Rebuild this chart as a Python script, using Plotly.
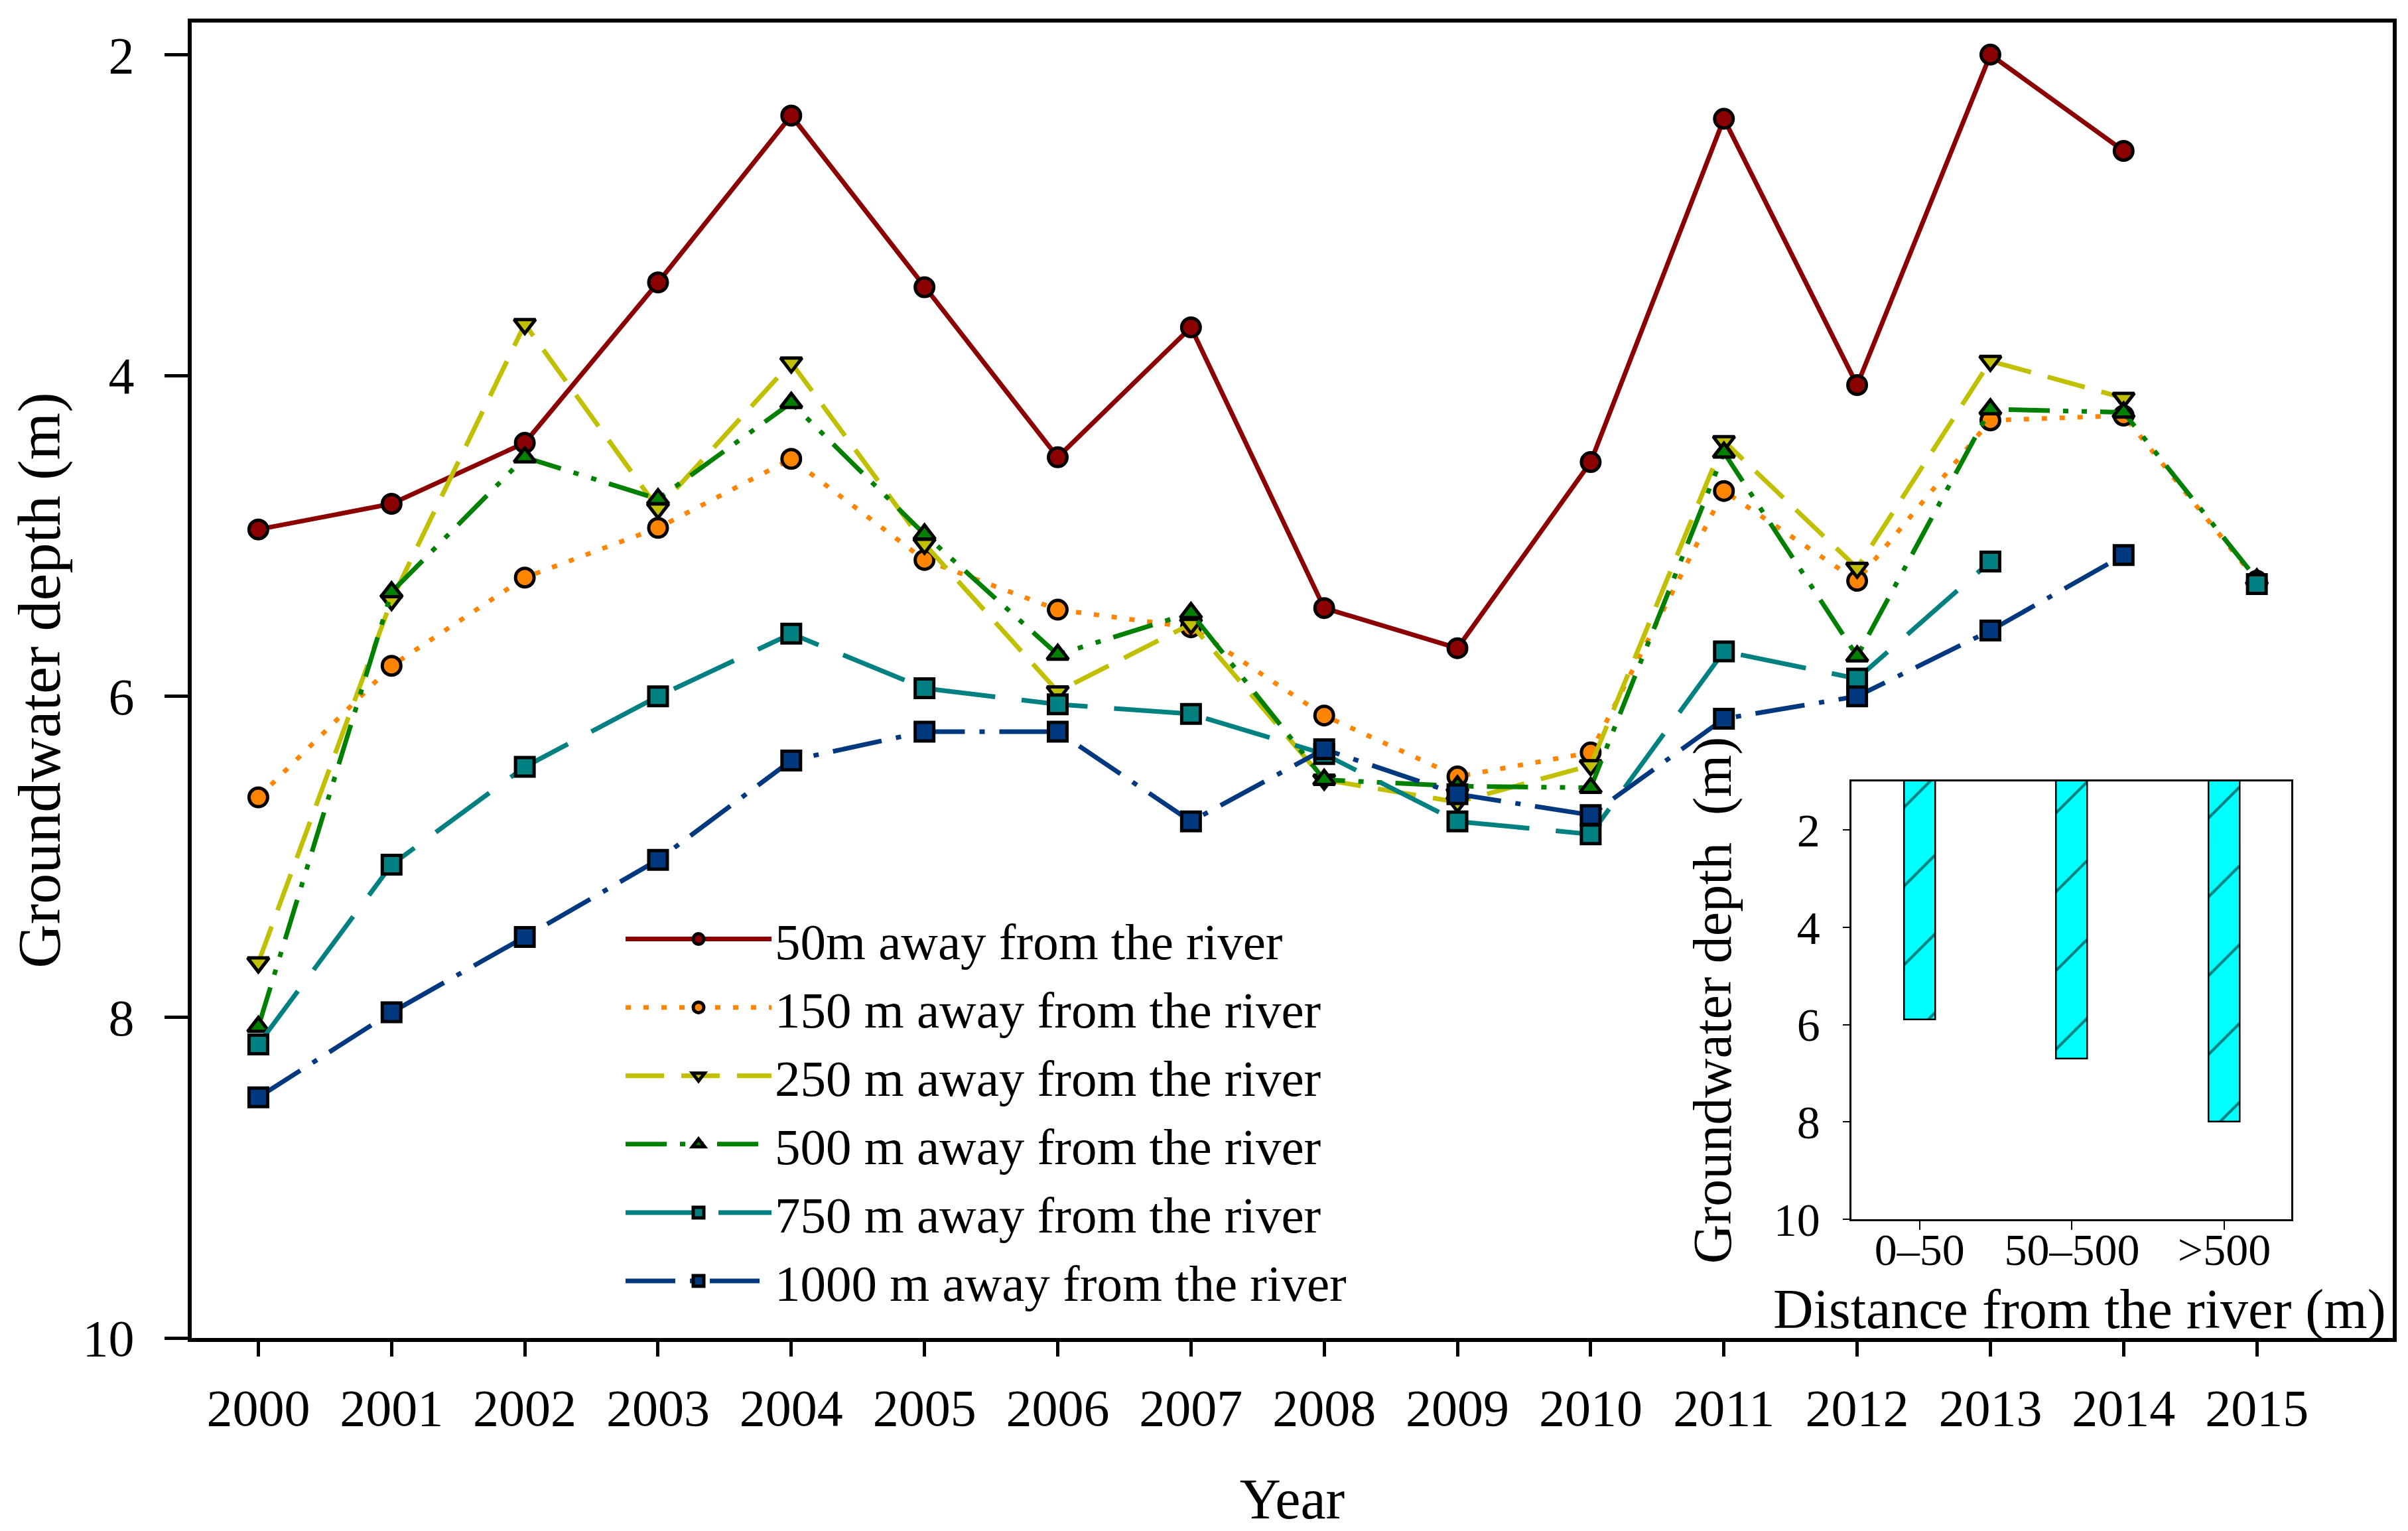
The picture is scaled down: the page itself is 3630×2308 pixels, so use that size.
import plotly.graph_objects as go

years = list(range(2000, 2016))
d50 = [4.96, 4.80, 4.42, 3.42, 2.38, 3.45, 4.51, 3.70, 5.45, 5.70, 4.54, 2.40, 4.06, 2.00, 2.60, None]
d150 = [6.63, 5.81, 5.26, 4.95, 4.52, 5.15, 5.46, 5.57, 6.12, 6.50, 6.35, 4.72, 5.28, 4.28, 4.25, 5.28]
d250 = [7.66, 5.40, 3.68, 4.83, 3.92, 5.05, 5.97, 5.55, 6.52, 6.66, 6.43, 4.41, 5.20, 3.91, 4.14, None]
d500 = [8.06, 5.35, 4.51, 4.77, 4.17, 4.99, 5.74, 5.48, 6.52, 6.56, 6.57, 4.48, 5.75, 4.21, 4.23, 5.27]
d750 = [8.17, 7.05, 6.44, 6.00, 5.61, 5.95, 6.05, 6.11, 6.36, 6.78, 6.86, 5.72, 5.89, 5.16, None, 5.30]
d1000 = [8.50, 7.97, 7.50, 7.02, 6.40, 6.22, 6.22, 6.78, 6.33, 6.61, 6.74, 6.14, 6.00, 5.59, 5.12, None]

series_names = ["50m away from the river", "150 m away from the river", "250 m away from the river",
                "500 m away from the river", "750 m away from the river", "1000 m away from the river"]

inset_cats = ["0\u201350", "50\u2013500", ">500"]
inset_vals = [5.9, 6.7, 8.0]

y_ticks = [2, 4, 6, 8, 10]

FONT = "Liberation Serif"

styles = [
    dict(color="#8B0000", dash="solid", symbol="circle"),
    dict(color="#FF8500", dash="8px,19px", symbol="circle"),
    dict(color="#C0C000", dash="58px,26px", symbol="triangle-down"),
    dict(color="#008000", dash="62px,20px,8px,20px,8px,20px", symbol="triangle-up"),
    dict(color="#008080", dash="100px,40px", symbol="square"),
    dict(color="#00387F", dash="75px,22px,8px,22px", symbol="square"),
]
data = [d50, d150, d250, d500, d750, d1000]

fig = go.Figure()
for name, vals, st in zip(series_names, data, styles):
    fig.add_trace(go.Scatter(
        x=years, y=vals, name=name, mode="lines+markers",
        line=dict(color=st["color"], width=7, dash=st["dash"]),
        marker=dict(symbol=st["symbol"], size=28, color=st["color"],
                    line=dict(color="black", width=5)),
        connectgaps=False,
        xaxis="x", yaxis="y",
    ))

fig.add_trace(go.Bar(
    x=inset_cats, y=inset_vals, width=0.204,
    marker=dict(color="#00FFFF", line=dict(color="black", width=2.5),
                pattern=dict(shape="/", fgcolor="black", bgcolor="#00FFFF",
                             size=84, solidity=0.05)),
    showlegend=False, xaxis="x2", yaxis="y2",
))

L, R, T, B = 281, 31, 26, 299
W, H = 3630, 2308
pw = W - L - R
ph = H - T - B

def px_x(p):
    return (p - L) / pw

def px_y(p):
    return (H - B - p) / ph

fig.update_layout(
    width=W, height=H,
    margin=dict(l=L, r=R, t=T, b=B),
    paper_bgcolor="white", plot_bgcolor="white",
    font=dict(family=FONT, color="black", size=76),
    showlegend=True,
    legend=dict(x=px_x(930), y=px_y(1351), xanchor="left", yanchor="top",
                font=dict(family=FONT, size=77), bgcolor="rgba(0,0,0,0)",
                itemwidth=220, tracegroupgap=0),
    xaxis=dict(
        range=[1999.5, 2016.02], tickvals=years, ticktext=[str(y) for y in years],
        ticks="outside", ticklen=22, tickwidth=5, tickcolor="black",
        showline=True, linewidth=6, linecolor="black", mirror=True,
        showgrid=False, zeroline=False,
        tickfont=dict(family=FONT, size=78), ticklabelstandoff=10,
        title=dict(text="Year", font=dict(family=FONT, size=86), standoff=66),
    ),
    yaxis=dict(
        range=[10, 1.8], tickvals=y_ticks,
        ticks="outside", ticklen=35, tickwidth=5, tickcolor="black",
        showline=True, linewidth=6, linecolor="black", mirror=True,
        showgrid=False, zeroline=False,
        tickfont=dict(family=FONT, size=78), ticklabelstandoff=30,
        title=dict(text="Groundwater depth (m)", font=dict(family=FONT, size=92), standoff=40),
    ),
    xaxis2=dict(
        domain=[px_x(2782.5), px_x(3446)], anchor="y2",
        range=[-0.45, 2.44],
        ticks="outside", ticklen=13, tickwidth=2, tickcolor="black",
        showline=True, linewidth=2.5, linecolor="black", mirror=True,
        showgrid=False, zeroline=False,
        tickfont=dict(family=FONT, size=68), ticklabelstandoff=-28,
    ),
    yaxis2=dict(
        domain=[px_y(1830), px_y(1170)], anchor="x2",
        range=[10, 1], tickvals=y_ticks,
        ticks="outside", ticklen=10, tickwidth=2, tickcolor="black",
        showline=True, linewidth=2.5, linecolor="black", mirror=True,
        showgrid=False, zeroline=False,
        tickfont=dict(family=FONT, size=70), ticklabelstandoff=20,
        title=dict(text="Groundwater depth  (m)", font=dict(family=FONT, size=82), standoff=38),
    ),
    annotations=[dict(
        text="Distance from the river (m)", xref="paper", yref="paper",
        x=px_x(3127), y=px_y(1966), xanchor="center", yanchor="middle",
        showarrow=False, font=dict(family=FONT, size=84, color="black"),
    )],
    bargap=0,
)

fig.write_html("out.html")
